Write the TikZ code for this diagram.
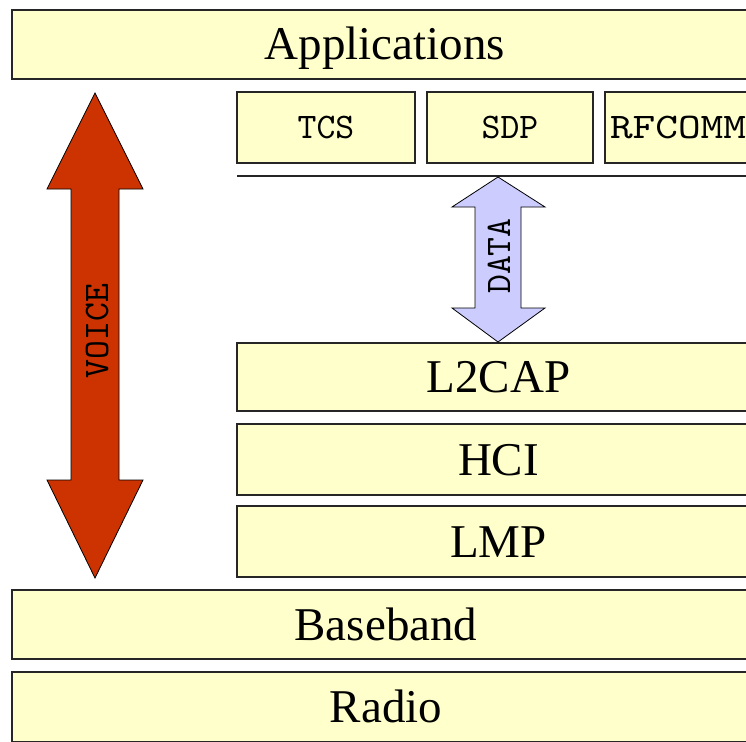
\documentclass[tikz,border=0pt]{standalone}
\usepackage{fontspec}
\setmainfont{Liberation Serif}
\newfontfamily\protofont{lmmono10-regular.otf}
\newfontfamily\protowide{lmmono10-regular.otf}[FakeStretch=1.2]
\definecolor{boxfill}{HTML}{FFFFCC}
\definecolor{voicered}{HTML}{CC3300}
\definecolor{datablue}{HTML}{CCCCFF}
\begin{document}
\begin{tikzpicture}[x=1pt,y=-1pt,
  layer/.style={draw=black!85, line width=1.5pt, fill=boxfill, inner sep=0pt,
    font=\fontsize{47}{50}\selectfont, text height=31pt, text depth=0pt},
  proto/.style={draw=black!85, line width=1.5pt, fill=boxfill, inner sep=0pt,
    font=\protofont\fontsize{36}{40}\selectfont, text height=22pt, text depth=0pt},
  lbl/.style={inner sep=0pt, font=\protofont\fontsize{36}{40}\selectfont, text height=22pt, text depth=0pt},
  bigarrow/.style={draw=black, line width=0.8pt, line join=miter}
]
\useasboundingbox (0,0) rectangle (746,741);
\clip (0,0) rectangle (746,741);
\fill[white] (0,0) rectangle (746,741);

% layers
\node[layer, minimum width=746pt, minimum height=69pt] (app) at (385,44.5) {Applications};
\node[proto, minimum width=178pt, minimum height=71pt] (tcs) at (326,127.5) {TCS};
\node[proto, minimum width=166pt, minimum height=71pt] (sdp) at (510,127.5) {SDP};
\node[proto, font=\protowide\fontsize{36}{40}\selectfont, minimum width=180pt, minimum height=71pt,
      text width=170pt, inner xsep=5pt, align=left] (rf) at (695,127.5) {RFCOMM};

\coordinate (ls) at (237,176);
\coordinate (le) at (760,176);
\draw[line width=1.5pt, black!85] (ls) -- (le);

\node[layer, minimum width=523pt, minimum height=68pt] (l2cap) at (498.5,377) {L2CAP};
\node[layer, minimum width=523pt, minimum height=71pt] (hci) at (498.5,459.5) {HCI};
\node[layer, minimum width=523pt, minimum height=71pt] (lmp) at (498.5,541.5) {LMP};
\node[layer, minimum width=748pt, minimum height=69pt] (base) at (386,624.5) {Baseband};
\node[layer, minimum width=748pt, minimum height=70pt] (radio) at (386,707) {Radio};

% VOICE arrow
\draw[bigarrow, fill=voicered] (95,93) -- (143,189) -- (119,189) -- (119,480) -- (143,480)
  -- (95,578) -- (47,480) -- (71,480) -- (71,189) -- (47,189) -- cycle;
\node[lbl, rotate=90] (voice) at (97,331) {VOICE};

% DATA arrow
\draw[bigarrow, fill=datablue] (498,177) -- (545,207) -- (521,207) -- (521,308) -- (545,308)
  -- (498,342) -- (452,308) -- (475,308) -- (475,207) -- (452,207) -- cycle;
\node[lbl, rotate=90] (data) at (499,256) {DATA};
\end{tikzpicture}
\end{document}
